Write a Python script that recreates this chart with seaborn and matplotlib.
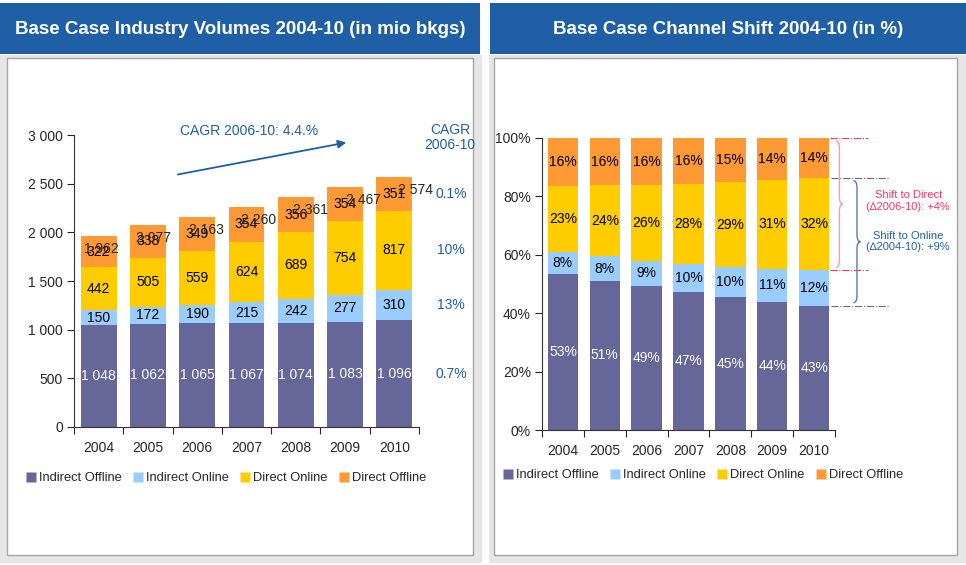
import numpy as np
import pandas as pd
import matplotlib
matplotlib.use("Agg")
import matplotlib.pyplot as plt
import seaborn as sns
from matplotlib.patches import Rectangle, PathPatch
from matplotlib.path import Path
from matplotlib.lines import Line2D

# data
years = ["2004", "2005", "2006", "2007", "2008", "2009", "2010"]
indirect_offline = [1048, 1062, 1065, 1067, 1074, 1083, 1096]
indirect_online = [150, 172, 190, 215, 242, 277, 310]
direct_online = [442, 505, 559, 624, 689, 754, 817]
direct_offline = [322, 338, 349, 354, 356, 354, 351]
total_labels = [1962, 2077, 2163, 2260, 2361, 2467, 2574]
series_names = ["Indirect Offline", "Indirect Online", "Direct Online", "Direct Offline"]
cagr_by_series = ["0.7%", "13%", "10%", "0.1%"]

colors = ["#666699", "#99ccff", "#ffcc00", "#ff9933"]
blue = "#1f5fa6"
pink = "#ff3366"

sns.set_style("ticks")
plt.rcParams["font.family"] = ["Liberation Sans", "DejaVu Sans"]
plt.rcParams["axes.edgecolor"] = "#333333"

df = pd.DataFrame({"year": years, "Indirect Offline": indirect_offline,
                   "Indirect Online": indirect_online, "Direct Online": direct_online,
                   "Direct Offline": direct_offline})
vals = df[series_names].to_numpy(dtype=float)
cum = vals.cumsum(axis=1)
shares = vals / vals.sum(axis=1, keepdims=True)
cum_sh = shares.cumsum(axis=1)

W, H = 966, 565
fig = plt.figure(figsize=(W / 100, H / 100), dpi=100)


def px_rect(x0, y0, x1, y1, **kw):
    # rectangle given in pixel coords measured from top-left
    fig.add_artist(Rectangle((x0 / W, 1 - y1 / H), (x1 - x0) / W, (y1 - y0) / H,
                             transform=fig.transFigure, zorder=-5, **kw))


# panels and title banners
for (x0, x1, xi0, xi1, title) in [(0, 482, 7, 473, "Base Case Industry Volumes 2004-10 (in mio bkgs)"),
                                  (489, 966, 494, 957, "Base Case Channel Shift 2004-10 (in %)")]:
    px_rect(x0, 55, x1, 563, facecolor="#e6e6e6", edgecolor="none")
    px_rect(xi0, 58, xi1, 555, facecolor="white", edgecolor="#a6a6a6", linewidth=1)
    bx0 = 0 if x0 == 0 else 490
    bx1 = 480 if x0 == 0 else 966
    px_rect(bx0, 3, bx1, 54, facecolor=blue, edgecolor="none")
    fig.text((bx0 + bx1) / 2 / W, 1 - 29 / H, title, color="white", ha="center", va="center",
             fontsize=13.5, fontweight="bold")

ax1 = fig.add_axes([74 / W, (H - 427) / H, 345 / W, 327 / H])
ax2 = fig.add_axes([542 / W, (H - 430) / H, 293 / W, 330 / H])


def stacked(ax, cumvals):
    for k in range(3, -1, -1):
        sns.barplot(x=years, y=cumvals[:, k], color=colors[k], width=0.73, saturation=1,
                    errorbar=None, linewidth=0, ax=ax, zorder=2)


def style_axes(ax, ymax, top):
    ax.set_facecolor("none")
    ax.set_xlim(-0.5, 6.5)
    ax.set_ylim(0, ymax)
    for s in ["top", "right"]:
        ax.spines[s].set_visible(False)
    ax.spines["left"].set_bounds(0, top)
    ax.set_xticks(range(7))
    ax.set_xticklabels(years)
    ax.set_xticks(np.arange(-0.5, 7, 1), minor=True)
    ax.tick_params(axis="x", which="major", length=0, pad=10, labelsize=10)
    ax.tick_params(axis="x", which="minor", length=5, direction="out", width=0.8)
    ax.tick_params(axis="y", length=5, direction="out", width=0.8, labelsize=10, pad=3)
    ax.set_xlabel("")
    ax.set_ylabel("")


# left: volumes
stacked(ax1, cum)
style_axes(ax1, 3361, 3000)
ax1.set_yticks(range(0, 3001, 500))
ax1.set_yticklabels([f"{v:,}".replace(",", " ") for v in range(0, 3001, 500)])
for k in range(4):
    mids = cum[:, k] - vals[:, k] / 2
    for i in range(7):
        ax1.text(i, mids[i], f"{int(vals[i, k]):,}".replace(",", " "), ha="center", va="center",
                 fontsize=10, color="white" if k == 0 else "black", zorder=5)
for i, t in enumerate(total_labels):
    ax1.annotate(f"{t:,}".replace(",", " "), (i, t), xytext=(3 + 3 * i, -13),
                 textcoords="offset pixels", ha="center", va="center", fontsize=10, zorder=6)
mids_2010 = cum[-1] - vals[-1] / 2
for k in range(4):
    ax1.text(7.15, mids_2010[k], cagr_by_series[k], color=blue, ha="center", va="center",
             fontsize=10, clip_on=False)
ax1.text(7.13, 2975, "CAGR\n2006-10", color=blue, ha="center", va="center", fontsize=10,
         linespacing=1.1, clip_on=False)
ax1.annotate("", xy=(5.08, 2929), xytext=(1.55, 2590),
             arrowprops=dict(arrowstyle="-|>", color=blue, lw=1.3, mutation_scale=12))
ax1.text(1.65, 3045, "CAGR 2006-10: 4.4.%", color=blue, ha="left", va="center", fontsize=10)

# right: shares
stacked(ax2, cum_sh)
style_axes(ax2, 1.13, 1.0)
ax2.set_yticks(np.arange(0, 1.01, 0.2))
ax2.set_yticklabels([f"{int(round(v * 100))}%" for v in np.arange(0, 1.01, 0.2)])
for k in range(4):
    mids = cum_sh[:, k] - shares[:, k] / 2
    for i in range(7):
        ax2.text(i, mids[i], f"{shares[i, k] * 100:.0f}%", ha="center", va="center",
                 fontsize=10, color="white" if k == 0 else "black", zorder=5)


def brace(ax, x0, w, y0, y1, color):
    ym = (y0 + y1) / 2
    h = (y1 - y0) * 0.06
    xm = x0 + w / 2
    verts = [(x0, y1), (xm, y1), (xm, y1 - h), (xm, ym + h), (xm, ym), (x0 + w, ym),
             (xm, ym), (xm, ym - h), (xm, y0 + h), (xm, y0), (x0, y0)]
    codes = [Path.MOVETO, Path.CURVE3, Path.CURVE3, Path.LINETO, Path.CURVE3, Path.CURVE3,
             Path.CURVE3, Path.CURVE3, Path.LINETO, Path.CURVE3, Path.CURVE3]
    ax.add_patch(PathPatch(Path(verts, codes), facecolor="none", edgecolor=color, lw=1,
                           clip_on=False))


r_top, r_bot = cum_sh[-1, 3], cum_sh[-1, 1]
b_top, b_bot = cum_sh[-1, 2], cum_sh[-1, 0]
for y in (r_top, r_bot):
    ax2.plot([6.39, 7.3], [y, y], ls="-.", color=pink, lw=0.8, clip_on=False)
for y in (b_top, b_bot):
    ax2.plot([6.41, 7.78], [y, y], ls="-.", color="#666699", lw=0.8, clip_on=False)
brace(ax2, 6.52, 0.17, r_bot + 0.01, r_top - 0.01, "#ff99aa")
brace(ax2, 6.94, 0.17, b_bot + 0.01, b_top - 0.01, "#5577bb")
ax2.text(8.25, 0.784, "Shift to Direct\n(\u22062006-10): +4%", color=pink, ha="center",
         va="center", fontsize=8, linespacing=1.2, clip_on=False)
ax2.text(8.25, 0.645, "Shift to Online\n(\u22062004-10): +9%", color=blue, ha="center",
         va="center", fontsize=8, linespacing=1.2, clip_on=False)

# legends
handles = [Line2D([], [], ls="none", marker="s", markersize=7.5, markerfacecolor=c,
                  markeredgecolor="none") for c in colors]
for cx, cy in [(226, 478), (703, 475)]:
    fig.legend(handles, series_names, loc="center", bbox_to_anchor=(cx / W, 1 - cy / H),
               ncol=4, frameon=False, fontsize=9.3, handlelength=0.8, handletextpad=0.2,
               columnspacing=0.9, borderaxespad=0)

fig.savefig("out.png", dpi=100)
